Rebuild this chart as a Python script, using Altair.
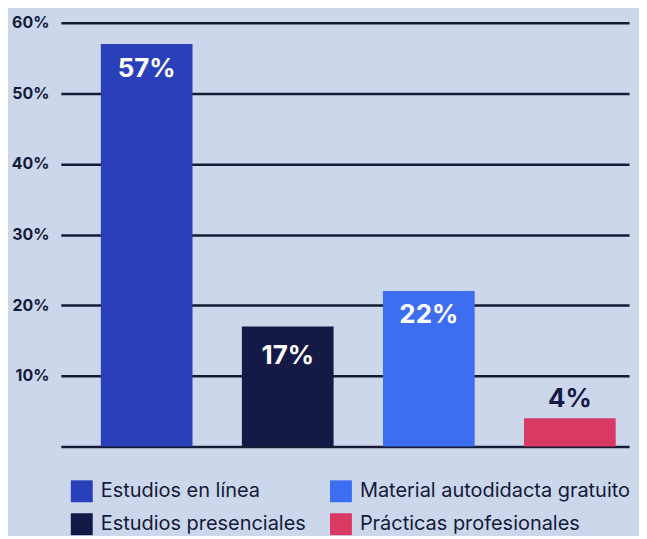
import altair as alt
import pandas as pd

categories = ["Estudios en línea", "Estudios presenciales", "Material autodidacta gratuito", "Prácticas profesionales"]
values = [57, 17, 22, 4]
labels = ["57%", "17%", "22%", "4%"]
bar_colors = ["#2a40b8", "#141a45", "#3d6ef2", "#d93a64"]
label_colors = ["white", "white", "white", "#141a45"]
label_dy = [25, 30, 24, -19]

df = pd.DataFrame({
    "cat": categories,
    "val": values,
    "lab": labels,
    "lc": label_colors,
    "dy": label_dy,
})
df["ly"] = df["val"] - df["dy"] * 60 / 425

FONT = "Inter"

x = alt.X("cat:N", sort=categories, axis=None,
          scale=alt.Scale(paddingInner=0.35, paddingOuter=0.189, align=0.75))
yscale = alt.Scale(domain=[0, 60], nice=False)

bars = alt.Chart(df).mark_bar().encode(
    x=x,
    y=alt.Y("val:Q", scale=yscale, title=None,
            axis=alt.Axis(values=[0, 10, 20, 30, 40, 50, 60],
                          labelExpr="datum.value == 0 ? '' : datum.value + '%'",
                          domain=False, ticks=False, labelPadding=12,
                          labelFont=FONT, labelFontSize=16, labelFontWeight="bold",
                          labelColor="#141a3a", grid=True, gridColor="#161a33",
                          gridWidth=2.5)),
    color=alt.Color("cat:N", scale=alt.Scale(domain=categories, range=bar_colors),
                    legend=alt.Legend(title=None, orient="none", legendX=10, legendY=459,
                                      columns=2, symbolType="square", symbolSize=484,
                                      symbolStrokeWidth=0, labelFont=FONT, labelFontSize=20,
                                      labelColor="#141a3a", columnPadding=24, rowPadding=11,
                                      labelOffset=8, labelLimit=400)),
)

text = alt.Chart(df).mark_text(font=FONT, fontSize=26, fontWeight="bold", baseline="middle").encode(
    x=x,
    y=alt.Y("ly:Q", scale=yscale),
    text="lab:N",
    color=alt.Color("lc:N", scale=None),
)

chart = alt.layer(bars, text).properties(
    width=570, height=425, background="#ccd7ec",
    padding={"left": 3, "top": 6, "right": 8, "bottom": 0},
).configure_view(stroke=None)

chart.save("out.html", embed_options={"renderer": "svg", "actions": False})
